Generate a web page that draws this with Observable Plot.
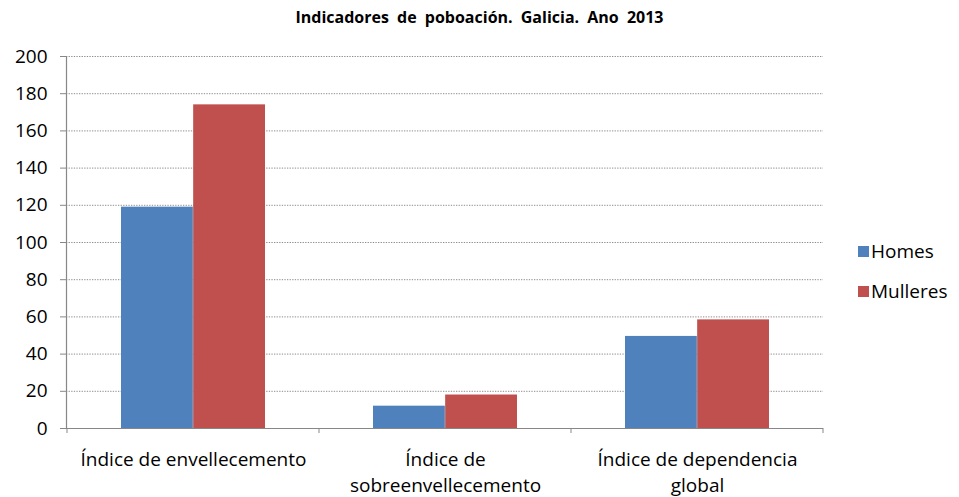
<!DOCTYPE html>
<html>
<head>
<meta charset="utf-8">
<script src="https://cdn.jsdelivr.net/npm/d3@7"></script>
<script src="https://cdn.jsdelivr.net/npm/@observablehq/plot@0.6"></script>
<style>
  html, body { margin: 0; padding: 0; background: #fff; }
  #wrap { position: relative; width: 959px; height: 497px; font-family: "Open Sans", sans-serif; }
  #chart { position: absolute; left: 0; top: 0; }
  #title { position: absolute; left: 0; width: 959px; top: 7px; text-align: center; font-weight: bold; font-size: 16px; word-spacing: 4px; color: #000; line-height: 21px; }
  #legend { position: absolute; left: 858px; top: 231px; font-size: 19px; color: #000; }
  .item { display: flex; align-items: center; height: 40px; }
  .sw { width: 11px; height: 11px; margin-right: 2px; }
</style>
</head>
<body>
<div id="wrap">
  <div id="chart"></div>
  <div id="title"></div>
  <div id="legend"></div>
</div>
<script>
const title = "Indicadores de poboación. Galicia. Ano 2013";
const categories = ["Índice de envellecemento", "Índice de sobreenvellecemento", "Índice de dependencia global"];
const categoryLabels = ["Índice de envellecemento", "Índice de\nsobreenvellecemento", "Índice de dependencia\nglobal"];
const seriesNames = ["Homes", "Mulleres"];
const homes = [119, 12, 49.5];
const mulleres = [174, 18, 58.4];
const yTicks = [0, 20, 40, 60, 80, 100, 120, 140, 160, 180, 200];
const colors = ["#4F81BD", "#C0504D"];

const font = '"Open Sans", sans-serif';
const W = 959, H = 497;
const mL = 66, mR = 136, mT = 56, mB = 69;
const band = (W - mL - mR) / categories.length;
const gapFrac = 0.214, barFrac = 0.286;

const data = [
  ...categories.map((c, i) => ({category: c, series: seriesNames[0], value: homes[i]})),
  ...categories.map((c, i) => ({category: c, series: seriesNames[1], value: mulleres[i]}))
];

function boundaryTicks(index, scales, values, dimensions) {
  const g = d3.create("svg:g");
  const x = scales.x;
  const y0 = dimensions.height - dimensions.marginBottom;
  const edges = categories.map(c => x(c)).concat([x(categories[categories.length - 1]) + x.bandwidth()]);
  g.selectAll("line").data(edges).join("line")
    .attr("x1", d => d).attr("x2", d => d)
    .attr("y1", y0).attr("y2", y0 + 5)
    .attr("stroke", "#878787").attr("stroke-width", 1);
  return g.node();
}

const chart = Plot.plot({
  width: W, height: H,
  marginLeft: mL, marginRight: mR, marginTop: mT, marginBottom: mB,
  style: {fontFamily: font, fontSize: "19px", color: "#000", background: "white"},
  x: {domain: categories, padding: 0, axis: null, label: null},
  y: {domain: [0, 200], axis: null, label: null},
  marks: [
    Plot.gridY(yTicks.filter(d => d > 0), {stroke: "#8c8c8c", strokeOpacity: 1, strokeDasharray: "1.3,1.3"}),
    Plot.barY(data.filter(d => d.series === seriesNames[0]), {x: "category", y: "value", fill: colors[0],
      insetLeft: band * gapFrac, insetRight: band * (1 - gapFrac - barFrac)}),
    Plot.barY(data.filter(d => d.series === seriesNames[1]), {x: "category", y: "value", fill: colors[1],
      insetLeft: band * (gapFrac + barFrac), insetRight: band * (1 - gapFrac - 2 * barFrac)}),
    Plot.ruleY([0], {stroke: "#878787", strokeWidth: 1.2}),
    Plot.frame({anchor: "left", stroke: "#878787", strokeWidth: 1.2}),
    Plot.axisY({ticks: yTicks, tickSize: 6, tickPadding: 13, stroke: "#878787", fontSize: 19, label: null}),
    Plot.axisX({tickSize: 0, tickPadding: 19, fontSize: 19, lineHeight: 1.37, label: null,
      tickFormat: d => categoryLabels[categories.indexOf(d)]}),
    boundaryTicks
  ]
});
document.getElementById("chart").appendChild(chart);
document.getElementById("title").textContent = title;
const legend = document.getElementById("legend");
seriesNames.forEach((s, i) => {
  const it = document.createElement("div");
  it.className = "item";
  it.innerHTML = `<span class="sw" style="background:${colors[i]}"></span><span>${s}</span>`;
  legend.appendChild(it);
});
</script>
</body>
</html>
